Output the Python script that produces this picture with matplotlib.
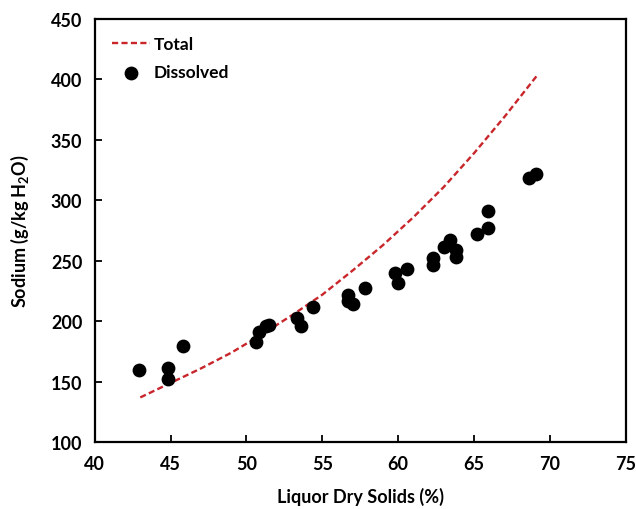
import matplotlib
matplotlib.use("Agg")
import matplotlib.pyplot as plt

plt.rcParams['font.family'] = ['Lato', 'DejaVu Sans']
plt.rcParams['font.weight'] = 'bold'
plt.rcParams['mathtext.fontset'] = 'custom'
plt.rcParams['mathtext.rm'] = 'Lato:bold'
plt.rcParams['mathtext.bf'] = 'Lato:bold'

# total sodium curve
total_x = [43, 45, 47, 49, 51, 53, 55, 57, 59, 61, 63, 65, 67, 69.2]
total_y = [137, 149, 161, 174, 189, 205, 222, 242, 263, 286, 311, 339, 369, 404]

# dissolved sodium measurements
diss_x = [42.9, 44.8, 44.8, 45.8, 50.6, 50.8, 51.3, 51.5, 53.3, 53.6, 54.4,
          56.7, 56.7, 57.0, 57.8, 59.8, 60.0, 60.6, 62.3, 62.3, 63.0, 63.4,
          63.8, 63.8, 65.2, 65.9, 65.9, 68.6, 69.1]
diss_y = [159.5, 161, 152, 179.5, 183, 191.5, 196, 197, 203, 196, 211.5,
          221.5, 217, 214, 227.5, 240, 232, 243.5, 252.5, 246.5, 261, 267.5,
          259, 253, 272, 277, 291, 318.5, 322]

fig = plt.figure(figsize=(6.36, 5.1), dpi=100)
ax = fig.add_axes([0.149, 0.131, 0.835, 0.830])

ax.plot(total_x, total_y, linestyle='--', color='#C8262B', lw=1.7,
        dashes=(2.6, 1.4), label='Total')
ax.scatter(diss_x, diss_y, s=80, color='black', zorder=3, label='Dissolved')

ax.set_xlim(40, 75)
ax.set_ylim(100, 450)
ax.set_xticks(range(40, 76, 5))
ax.set_yticks(range(100, 451, 50))
ax.tick_params(direction='in', length=5, width=1.3, labelsize=13, pad=9)
for s in ax.spines.values():
    s.set_linewidth(1.6)

ax.set_xlabel('Liquor Dry Solids (%)', fontsize=13, fontweight='bold', labelpad=11)
ax.set_ylabel(r'Sodium (g/kg H$_{2}$O)', fontsize=13, fontweight='bold', labelpad=14)

ax.legend(loc='upper left', frameon=False, fontsize=12.5, handlelength=2.2,
          handletextpad=0.2, borderaxespad=0.6, labelspacing=0.7)

fig.savefig('out.png', dpi=100)
